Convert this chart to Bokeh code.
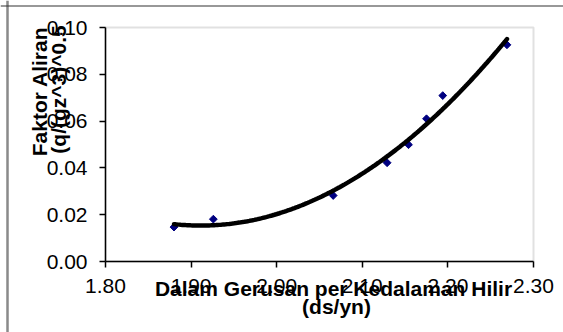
import numpy as np
from bokeh.plotting import figure
from bokeh.models import (Range1d, FixedTicker, NumeralTickFormatter, Label,
                          BoxAnnotation, LinearAxis, Span)
from bokeh.embed import file_html
from bokeh.resources import INLINE

# Scour depth ratio (ds/yn) against flow factor q/(g z^3)^0.5
ds_yn = [1.880, 1.926, 2.066, 2.129, 2.154, 2.175, 2.194, 2.269]
flow_factor = [0.0147, 0.0181, 0.0282, 0.0422, 0.0499, 0.0610, 0.0709, 0.0926]

x_ticks = [1.80, 1.90, 2.00, 2.10, 2.20, 2.30]
y_ticks = [0.00, 0.02, 0.04, 0.06, 0.08, 0.10]

x_title = ["Dalam Gerusan per Kedalaman Hilir", "(ds/yn)"]
y_title = ["Faktor Aliran", "(q/(gz^3)^0.5"]

FONT = "Liberation Sans"
W, H = 563, 332
# plot area in canvas pixels
PL, PR, PT, PB = 105, 533, 27, 261
X0, X1 = x_ticks[0], x_ticks[-1]
Y0, Y1 = y_ticks[0], y_ticks[-1]
KX = (PR - PL) / (X1 - X0)
KY = (PB - PT) / (Y1 - Y0)


def px_x(px):
    return X0 + (px - PL) / KX


def px_y(py):
    return Y0 + (PB - py) / KY


# the frame fills the whole canvas; axes are pinned at the plot-area edges
p = figure(width=W, height=H, output_backend="svg", toolbar_location=None,
           x_axis_type=None, y_axis_type=None,
           x_range=Range1d(px_x(0), px_x(W)), y_range=Range1d(px_y(H), px_y(0)),
           min_border=0)
p.background_fill_color = "white"
p.border_fill_color = "white"
p.outline_line_color = None
p.xgrid.visible = False
p.ygrid.visible = False

xaxis = LinearAxis(fixed_location=Y0, bounds=(X0, X1))
yaxis = LinearAxis(fixed_location=X0, bounds=(Y0, Y1))
p.add_layout(xaxis, "below")
p.add_layout(yaxis, "left")

for ax, ticks in ((xaxis, x_ticks), (yaxis, y_ticks)):
    ax.ticker = FixedTicker(ticks=ticks)
    ax.formatter = NumeralTickFormatter(format="0.00")
    ax.axis_line_color = "black"
    ax.axis_line_width = 1.5
    ax.major_tick_line_color = "black"
    ax.major_tick_line_width = 1.5
    ax.major_tick_in = 0
    ax.major_tick_out = 6
    ax.minor_tick_line_color = None
    ax.major_label_text_font = FONT
    ax.major_label_text_font_size = "21px"
    ax.major_label_text_color = "black"
yaxis.major_label_standoff = 12
xaxis.major_label_standoff = 11

# plot-area border (grey top and right edges)
p.add_layout(BoxAnnotation(left=X0, right=X1, bottom=Y0, top=Y1,
                           fill_color=None, line_color="#9a9a9a", line_width=2,
                           level="underlay"))

# outer chart border: grey left edge, dark top edge
p.add_layout(Span(location=px_x(7), dimension="height", line_color="#8a8a8a",
                  line_width=2.5, level="underlay"))
p.add_layout(Span(location=px_y(5.5), dimension="width", line_color="#333333",
                  line_width=1.2, level="underlay"))

# observed points
p.scatter(ds_yn, flow_factor, marker="square", size=5.5, angle=np.pi / 4,
          fill_color="#000080", line_color="#000080")

# second-order polynomial trendline
coef = np.polyfit(ds_yn, flow_factor, 2)
xs = np.linspace(min(ds_yn), max(ds_yn), 200)
p.line(xs, np.polyval(coef, xs), line_color="black", line_width=4.5, line_cap="round")

# axis titles, positioned by the middle of their capital letters
title_style = dict(text_font=FONT, text_font_size="21px", text_font_style="bold",
                   text_color="black", text_align="center", text_baseline="middle")
for txt, mx, cy in ((y_title[0], 38.5, 91), (y_title[1], 57.5, 89)):
    p.add_layout(Label(x=px_x(mx), y=px_y(cy), text=txt, angle=np.pi / 2, **title_style))
for txt, cx, my in ((x_title[0], 333, 288), (x_title[1], 336, 306)):
    p.add_layout(Label(x=px_x(cx), y=px_y(my), text=txt, **title_style))

open("out.html", "w").write(file_html(p, INLINE))
